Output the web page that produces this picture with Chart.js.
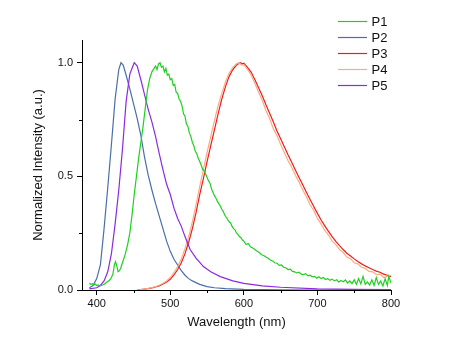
<!DOCTYPE html>
<html>
<head>
<meta charset="utf-8">
<script src="https://cdn.jsdelivr.net/npm/chart.js@4/dist/chart.umd.min.js"></script>
<style>
html,body{margin:0;padding:0;background:#fff;}
canvas{display:block;}
</style>
</head>
<body>
<canvas id="c" width="454" height="348"></canvas>
<script>
// ---- Data ----
const seriesNames = ["P1", "P2", "P3", "P4", "P5"];

const p1X = [390,392,394,396,398,400,402,404,406,408,410,412,414,416,418,420,422,424,425.5,427,429,431,433,436,439,442,445,448,451,454,457,460,463,466,469,472,475,478,480,482,484,486,488,490,492,494,496,498,500,502,504,506,508,510,512,514,516,518,520,522,524,526,528,530,532,534,536,538,540,542,544,546,548,550,552,554,556,558,560,562,564,566,568,570,572,574,576,578,580,582,584,586,588,590,592,594,596,598,600,603,606,609,612,615,618,621,624,627,630,633,636,639,642,645,648,651,654,657,660,663,666,669,672,675,678,681,684,687,690,693,696,699,702,705,708,711,714,717,720,723,726,729,732,735,738,741,744,747,750,753,756,759,762,765,768,771,774,777,780,783,786,789,792,795,797,800];
const p1Y = [0.03,0.025,0.028,0.022,0.026,0.02,0.022,0.018,0.02,0.022,0.025,0.03,0.035,0.04,0.045,0.055,0.07,0.11,0.125,0.11,0.08,0.085,0.1,0.13,0.16,0.2,0.25,0.33,0.42,0.5,0.58,0.65,0.72,0.8,0.88,0.93,0.96,0.975,0.985,0.97,0.995,1.0,0.98,0.985,0.96,0.975,0.945,0.95,0.925,0.93,0.9,0.905,0.87,0.865,0.84,0.83,0.81,0.775,0.765,0.73,0.72,0.69,0.675,0.65,0.635,0.61,0.6,0.58,0.565,0.55,0.53,0.525,0.51,0.495,0.48,0.47,0.445,0.43,0.415,0.405,0.39,0.38,0.37,0.355,0.345,0.33,0.32,0.31,0.3,0.295,0.28,0.27,0.265,0.25,0.245,0.235,0.23,0.22,0.215,0.2,0.205,0.19,0.185,0.178,0.17,0.165,0.155,0.152,0.145,0.14,0.132,0.128,0.12,0.118,0.108,0.11,0.1,0.098,0.09,0.092,0.082,0.08,0.075,0.078,0.07,0.068,0.072,0.062,0.065,0.058,0.06,0.052,0.058,0.05,0.055,0.046,0.05,0.043,0.048,0.04,0.045,0.035,0.042,0.036,0.044,0.03,0.04,0.028,0.045,0.025,0.05,0.027,0.06,0.025,0.035,0.022,0.045,0.02,0.055,0.025,0.04,0.018,0.05,0.02,0.06,0.03];

const p2X = [390,395,400,405,410,415,420,425,430,433,436,440,445,450,455,460,465,470,475,480,485,490,495,500,505,510,515,520,525,530,540,550,560,575,600,650,700,750,800];
const p2Y = [0.01,0.02,0.05,0.11,0.27,0.45,0.64,0.84,0.97,1.0,0.99,0.945,0.885,0.82,0.755,0.68,0.585,0.505,0.44,0.38,0.325,0.27,0.215,0.17,0.135,0.11,0.085,0.065,0.05,0.04,0.025,0.015,0.01,0.006,0.003,0.001,0,0,0];

const p3X = [455,460,465,470,475,480,485,490,495,500,505,510,515,520,525,530,535,540,545,550,555,560,565,570,575,580,585,590,595,598,600,605,610,615,620,625,630,635,640,645,650,655,660,665,670,675,680,685,690,695,700,705,710,715,720,725,730,735,740,745,750,755,760,765,770,775,780,785,790,795,800];
const p3Y = [0,0.002,0.004,0.006,0.009,0.013,0.018,0.026,0.035,0.047,0.066,0.09,0.12,0.16,0.21,0.27,0.34,0.42,0.49,0.565,0.635,0.705,0.775,0.84,0.895,0.94,0.97,0.99,1.0,0.995,0.998,0.98,0.958,0.925,0.89,0.855,0.815,0.778,0.74,0.7,0.665,0.63,0.595,0.562,0.528,0.495,0.463,0.43,0.398,0.367,0.337,0.308,0.282,0.258,0.235,0.214,0.195,0.178,0.162,0.15,0.137,0.125,0.115,0.106,0.098,0.09,0.083,0.078,0.07,0.065,0.058];

const p4X = [455,460,465,470,475,480,485,490,495,500,505,510,515,520,525,530,535,540,545,550,555,560,565,570,575,580,585,590,593,597,600,605,610,615,620,625,630,635,640,645,650,655,660,665,670,675,680,685,690,695,700,705,710,715,720,725,730,735,740,745,750,755,760,765,770,775,780,785,790,795,800];
const p4Y = [0,0.002,0.004,0.007,0.011,0.015,0.021,0.03,0.04,0.055,0.076,0.103,0.137,0.182,0.235,0.3,0.375,0.455,0.53,0.605,0.675,0.745,0.81,0.865,0.915,0.955,0.98,0.995,1.0,0.99,0.992,0.97,0.945,0.91,0.87,0.835,0.79,0.755,0.71,0.68,0.64,0.605,0.57,0.54,0.505,0.475,0.44,0.41,0.375,0.35,0.315,0.29,0.262,0.242,0.215,0.2,0.178,0.165,0.145,0.138,0.12,0.115,0.1,0.095,0.082,0.08,0.068,0.07,0.055,0.06,0.065];

const p5X = [390,400,405,410,415,420,425,430,435,440,445,451,455,460,465,470,475,480,485,490,495,500,505,510,515,520,527,535,545,555,568,585,600,625,650,700,750,800];
const p5Y = [0.005,0.01,0.02,0.04,0.08,0.16,0.29,0.44,0.62,0.83,0.95,1.0,0.985,0.925,0.86,0.795,0.74,0.675,0.6,0.53,0.465,0.42,0.36,0.315,0.28,0.235,0.178,0.14,0.103,0.08,0.059,0.04,0.029,0.018,0.012,0.005,0.003,0.002];

const xTickLabels = [400, 500, 600, 700, 800];
const xMinorTicks = [450, 550, 650, 750];
const yTickLabels = [0.0, 0.5, 1.0];
const yMinorTicks = [0.25, 0.75];
const xTitle = "Wavelength (nm)";
const yTitle = "Normalized Intensity (a.u.)";

// ---- Styles ----
const colors = ["#1fd01f", "#4a6fa8", "#ee1c1c", "#f5ad86", "#8a2be2"];
const xs = [p1X, p2X, p3X, p4X, p5X];
const ys = [p1Y, p2Y, p3Y, p4Y, p5Y];
const drawOrder = [1, 4, 5, 3, 2];

const datasets = seriesNames.map((name, i) => ({
  label: name,
  data: xs[i].map((x, k) => ({x: x, y: ys[i][k]})),
  borderColor: colors[i],
  backgroundColor: colors[i],
  borderWidth: 1.2,
  pointRadius: 0,
  tension: 0,
  fill: false,
  order: drawOrder[i]
}));

const FONT = "'Liberation Sans', Arial, sans-serif";

const minorTicks = {
  id: 'minorTicks',
  afterDraw(chart) {
    const ctx = chart.ctx;
    const xS = chart.scales.x, yS = chart.scales.y;
    ctx.save();
    ctx.strokeStyle = '#000';
    ctx.lineWidth = 1;
    xMinorTicks.forEach(v => {
      const px = Math.round(xS.getPixelForValue(v)) + 0.5;
      ctx.beginPath();
      ctx.moveTo(px, yS.bottom);
      ctx.lineTo(px, yS.bottom + 3);
      ctx.stroke();
    });
    yMinorTicks.forEach(v => {
      const py = Math.round(yS.getPixelForValue(v)) + 0.5;
      ctx.beginPath();
      ctx.moveTo(xS.left, py);
      ctx.lineTo(xS.left - 3, py);
      ctx.stroke();
    });
    ctx.restore();
  }
};

const customLegend = {
  id: 'customLegend',
  afterDraw(chart) {
    const ctx = chart.ctx;
    ctx.save();
    ctx.font = "13px " + FONT;
    ctx.textBaseline = 'middle';
    ctx.textAlign = 'left';
    chart.data.datasets.forEach((ds, i) => {
      const y = 21.5 + i * 16;
      ctx.strokeStyle = ds.borderColor;
      ctx.lineWidth = 1.2;
      ctx.beginPath();
      ctx.moveTo(338, y);
      ctx.lineTo(367, y);
      ctx.stroke();
      ctx.fillStyle = '#111';
      ctx.fillText(ds.label, 371.5, y + 0.5);
    });
    ctx.restore();
  }
};

new Chart(document.getElementById('c'), {
  type: 'line',
  data: { datasets: datasets },
  options: {
    responsive: false,
    animation: false,
    events: [],
    layout: { padding: { left: 0, top: 40, right: 63, bottom: 0 } },
    plugins: { legend: { display: false }, tooltip: { enabled: false } },
    scales: {
      x: {
        type: 'linear',
        min: 380, max: 800,
        afterBuildTicks: s => { s.ticks = xTickLabels.map(v => ({value: v})); },
        afterFit: s => { s.height = 58; },
        ticks: {
          color: '#111', padding: 2,
          font: { family: FONT, size: 11 },
          callback: v => String(v), maxRotation: 0, autoSkip: false
        },
        grid: { display: true, drawOnChartArea: false, drawTicks: true, tickLength: 5, color: '#000', tickWidth: 1 },
        border: { display: true, color: '#000', width: 1 },
        title: { display: true, text: xTitle, color: '#111', font: { family: FONT, size: 13 }, padding: { top: 0, bottom: 18 } }
      },
      y: {
        type: 'linear',
        min: 0, max: 1.1,
        afterBuildTicks: s => { s.ticks = yTickLabels.map(v => ({value: v})); },
        afterFit: s => { s.width = 82; },
        ticks: {
          color: '#111', padding: 4,
          font: { family: FONT, size: 11 },
          callback: v => Number(v).toFixed(1), autoSkip: false
        },
        grid: { display: true, drawOnChartArea: false, drawTicks: true, tickLength: 5, color: '#000', tickWidth: 1 },
        border: { display: true, color: '#000', width: 1 },
        title: { display: true, text: yTitle, color: '#111', font: { family: FONT, size: 13 }, padding: { top: 31, bottom: 0 } }
      }
    }
  },
  plugins: [minorTicks, customLegend]
});
</script>
</body>
</html>
